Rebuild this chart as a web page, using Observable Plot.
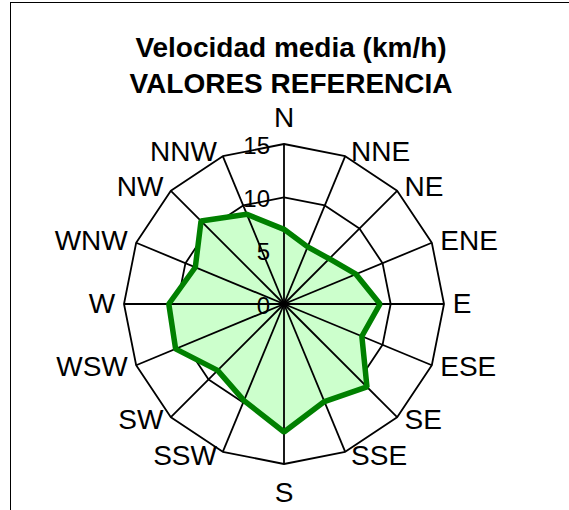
<!DOCTYPE html>
<html>
<head>
<meta charset="utf-8">
<script src="https://cdn.jsdelivr.net/npm/d3@7"></script>
<script src="https://cdn.jsdelivr.net/npm/@observablehq/plot@0.6"></script>
<style>
  html, body { margin: 0; padding: 0; background: #fff; overflow: hidden; }
  #wrap { position: relative; width: 569px; height: 510px; overflow: hidden; font-family: "Liberation Sans", Arial, sans-serif; }
  #border { position: absolute; left: 10px; top: 2px; width: 700px; height: 600px; border-left: 1.5px solid #000; border-top: 1.5px solid #000; box-sizing: border-box; }
  #title { position: absolute; left: 0; width: 582px; top: 30px; text-align: center; font-weight: bold; font-size: 28px; line-height: 35.5px; color: #000; }
  #chart { position: absolute; left: 0; top: 0; }
</style>
</head>
<body>
<div id="wrap">
  <div id="chart"></div>
  <div id="border"></div>
  <div id="title">Velocidad media (km/h)<br>VALORES REFERENCIA</div>
</div>
<script>
// ---- data ----
const directions = ["N","NNE","NE","ENE","E","ESE","SE","SSE","S","SSW","SW","WSW","W","WNW","NW","NNW"];
const speeds     = [7.0, 5.8, 6.0, 7.3, 9.0, 7.9, 11.0, 9.9, 12.0, 9.8, 8.8, 11.0, 10.8, 9.0, 11.0, 9.1];
const ringTicks  = [0, 5, 10, 15];
const maxValue   = 15;

// ---- layout ----
const W = 569, H = 510;
const cx = 283.5, cy = 303.5;      // pixel centre of the radar
const outerPx = 160;               // pixel radius of the outer ring
const k = outerPx / maxValue;      // px per unit

const angle = i => (i * 2 * Math.PI) / directions.length;
const px = (v, i) => v * Math.sin(angle(i));
const py = (v, i) => v * Math.cos(angle(i));

const seriesPts = directions.map((d, i) => ({dir: d, x: px(speeds[i], i), y: py(speeds[i], i)}));
const ringPts = ringTicks.filter(r => r > 0).flatMap(r =>
  directions.map((d, i) => ({ring: r, x: px(r, i), y: py(r, i)})));
const spokes = directions.map((d, i) => ({dir: d, x2: px(maxValue, i), y2: py(maxValue, i)}));

const labOff = 0.45; // radial offset (units) for side labels
const sideLabels = directions.map((d, i) => ({dir: d, i, x: px(maxValue + labOff, i), y: py(maxValue + labOff, i)}));
const rightLabels = sideLabels.filter(l => l.i > 0 && l.i < 8);
const leftLabels = sideLabels.filter(l => l.i > 8);
const northLabel = [{dir: directions[0], x: 0, y: maxValue + 17 / k}];
const southLabel = [{dir: directions[8], x: 0, y: -(maxValue + 18 / k)}];

const dirFont = 28;
const plot = Plot.plot({
  width: W, height: H,
  margin: 0,
  x: {domain: [-cx / k, (W - cx) / k], range: [0, W], axis: null},
  y: {domain: [-(H - cy) / k, cy / k], range: [H, 0], axis: null},
  style: {fontFamily: "'Liberation Sans', Arial, sans-serif", background: "transparent"},
  marks: [
    // rings (polygon gridlines)
    Plot.line(ringPts, {x: "x", y: "y", z: "ring", curve: "linear-closed", stroke: "#000", strokeWidth: 1.8}),
    // filled series area
    Plot.line(seriesPts, {x: "x", y: "y", curve: "linear-closed", fill: "#ccffcc", stroke: "none"}),
    // spokes
    Plot.link(spokes, {x1: () => 0, y1: () => 0, x2: "x2", y2: "y2", stroke: "#000", strokeWidth: 1.8}),
    // series outline
    Plot.line(seriesPts, {x: "x", y: "y", curve: "linear-closed", fill: "none", stroke: "#008000", strokeWidth: 5.5, strokeLinejoin: "miter"}),
    // ring value labels
    Plot.text(ringTicks, {x: () => 0, y: d => d, text: d => String(d), textAnchor: "end", lineAnchor: "middle", dx: -14, dy: 2, fontSize: 24, fill: "#000"}),
    // direction labels
    Plot.text(rightLabels, {x: "x", y: "y", text: "dir", textAnchor: "start", lineAnchor: "middle", dx: 4, fontSize: dirFont, fill: "#000"}),
    Plot.text(leftLabels, {x: "x", y: "y", text: "dir", textAnchor: "end", lineAnchor: "middle", dx: -4, fontSize: dirFont, fill: "#000"}),
    Plot.text(northLabel, {x: "x", y: "y", text: "dir", textAnchor: "middle", lineAnchor: "bottom", fontSize: dirFont, fill: "#000"}),
    Plot.text(southLabel, {x: "x", y: "y", text: "dir", textAnchor: "middle", lineAnchor: "top", fontSize: dirFont, fill: "#000"})
  ]
});
document.getElementById("chart").appendChild(plot);
</script>
</body>
</html>
